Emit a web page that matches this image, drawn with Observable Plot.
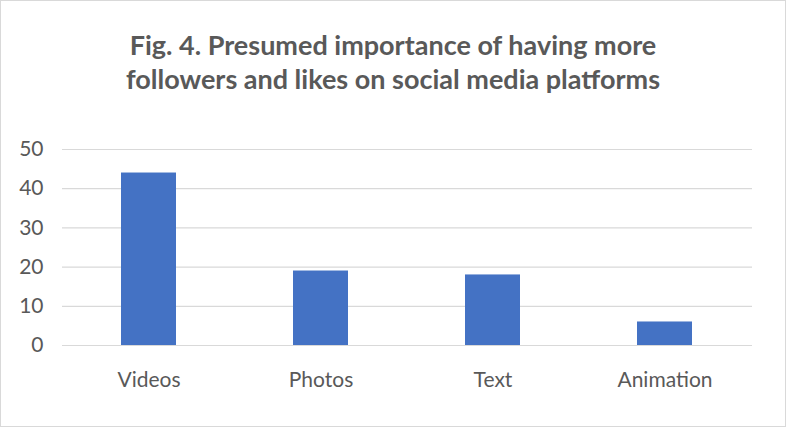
<!DOCTYPE html>
<html>
<head>
<meta charset="utf-8">
<script src="https://cdn.jsdelivr.net/npm/d3@7"></script>
<script src="https://cdn.jsdelivr.net/npm/@observablehq/plot@0.6"></script>
<style>
  html, body { margin: 0; padding: 0; background: #fff; }
  #frame {
    width: 784px; height: 425px;
    border: 1px solid #d9d9d9;
    background: #fff;
    font-family: Lato, "Open Sans", sans-serif;
    overflow: hidden;
  }
  #title {
    height: 120px; box-sizing: border-box;
    padding-top: 27px;
    text-align: center;
    font-weight: bold;
    font-size: 27px;
    line-height: 34px;
    color: #595959;
  }
  #chart svg { display: block; }
</style>
</head>
<body>
<div id="frame">
  <div id="title">Fig. 4. Presumed importance of having more<br>followers and likes on social media platforms</div>
  <div id="chart"></div>
</div>
<script>
const categories = ["Videos", "Photos", "Text", "Animation"];
const values = [44, 19, 18, 6];
const yTicks = [0, 10, 20, 30, 40, 50];

const data = categories.map((c, i) => ({category: c, value: values[i]}));

const chart = Plot.plot({
  width: 784,
  height: 305,
  marginLeft: 61,
  marginRight: 33,
  marginTop: 28,
  marginBottom: 81,
  style: {fontFamily: "Lato, 'Open Sans', sans-serif", fontSize: "21px", color: "#595959", background: "#fff"},
  x: {domain: categories, paddingInner: 0.68, paddingOuter: 0.34, label: null},
  y: {domain: [0, 50], label: null},
  marks: [
    Plot.ruleY(yTicks, {stroke: "#d9d9d9", strokeWidth: 1.2}),
    Plot.barY(data, {x: "category", y: "value", fill: "#4472C4"}),
    Plot.axisY(yTicks, {tickSize: 0, tickPadding: 19, label: null, fill: "#595959", fontSize: 21}),
    Plot.axisX({tickSize: 0, tickPadding: 27, label: null, fill: "#595959", fontSize: 21})
  ]
});
document.getElementById("chart").appendChild(chart);
</script>
</body>
</html>
